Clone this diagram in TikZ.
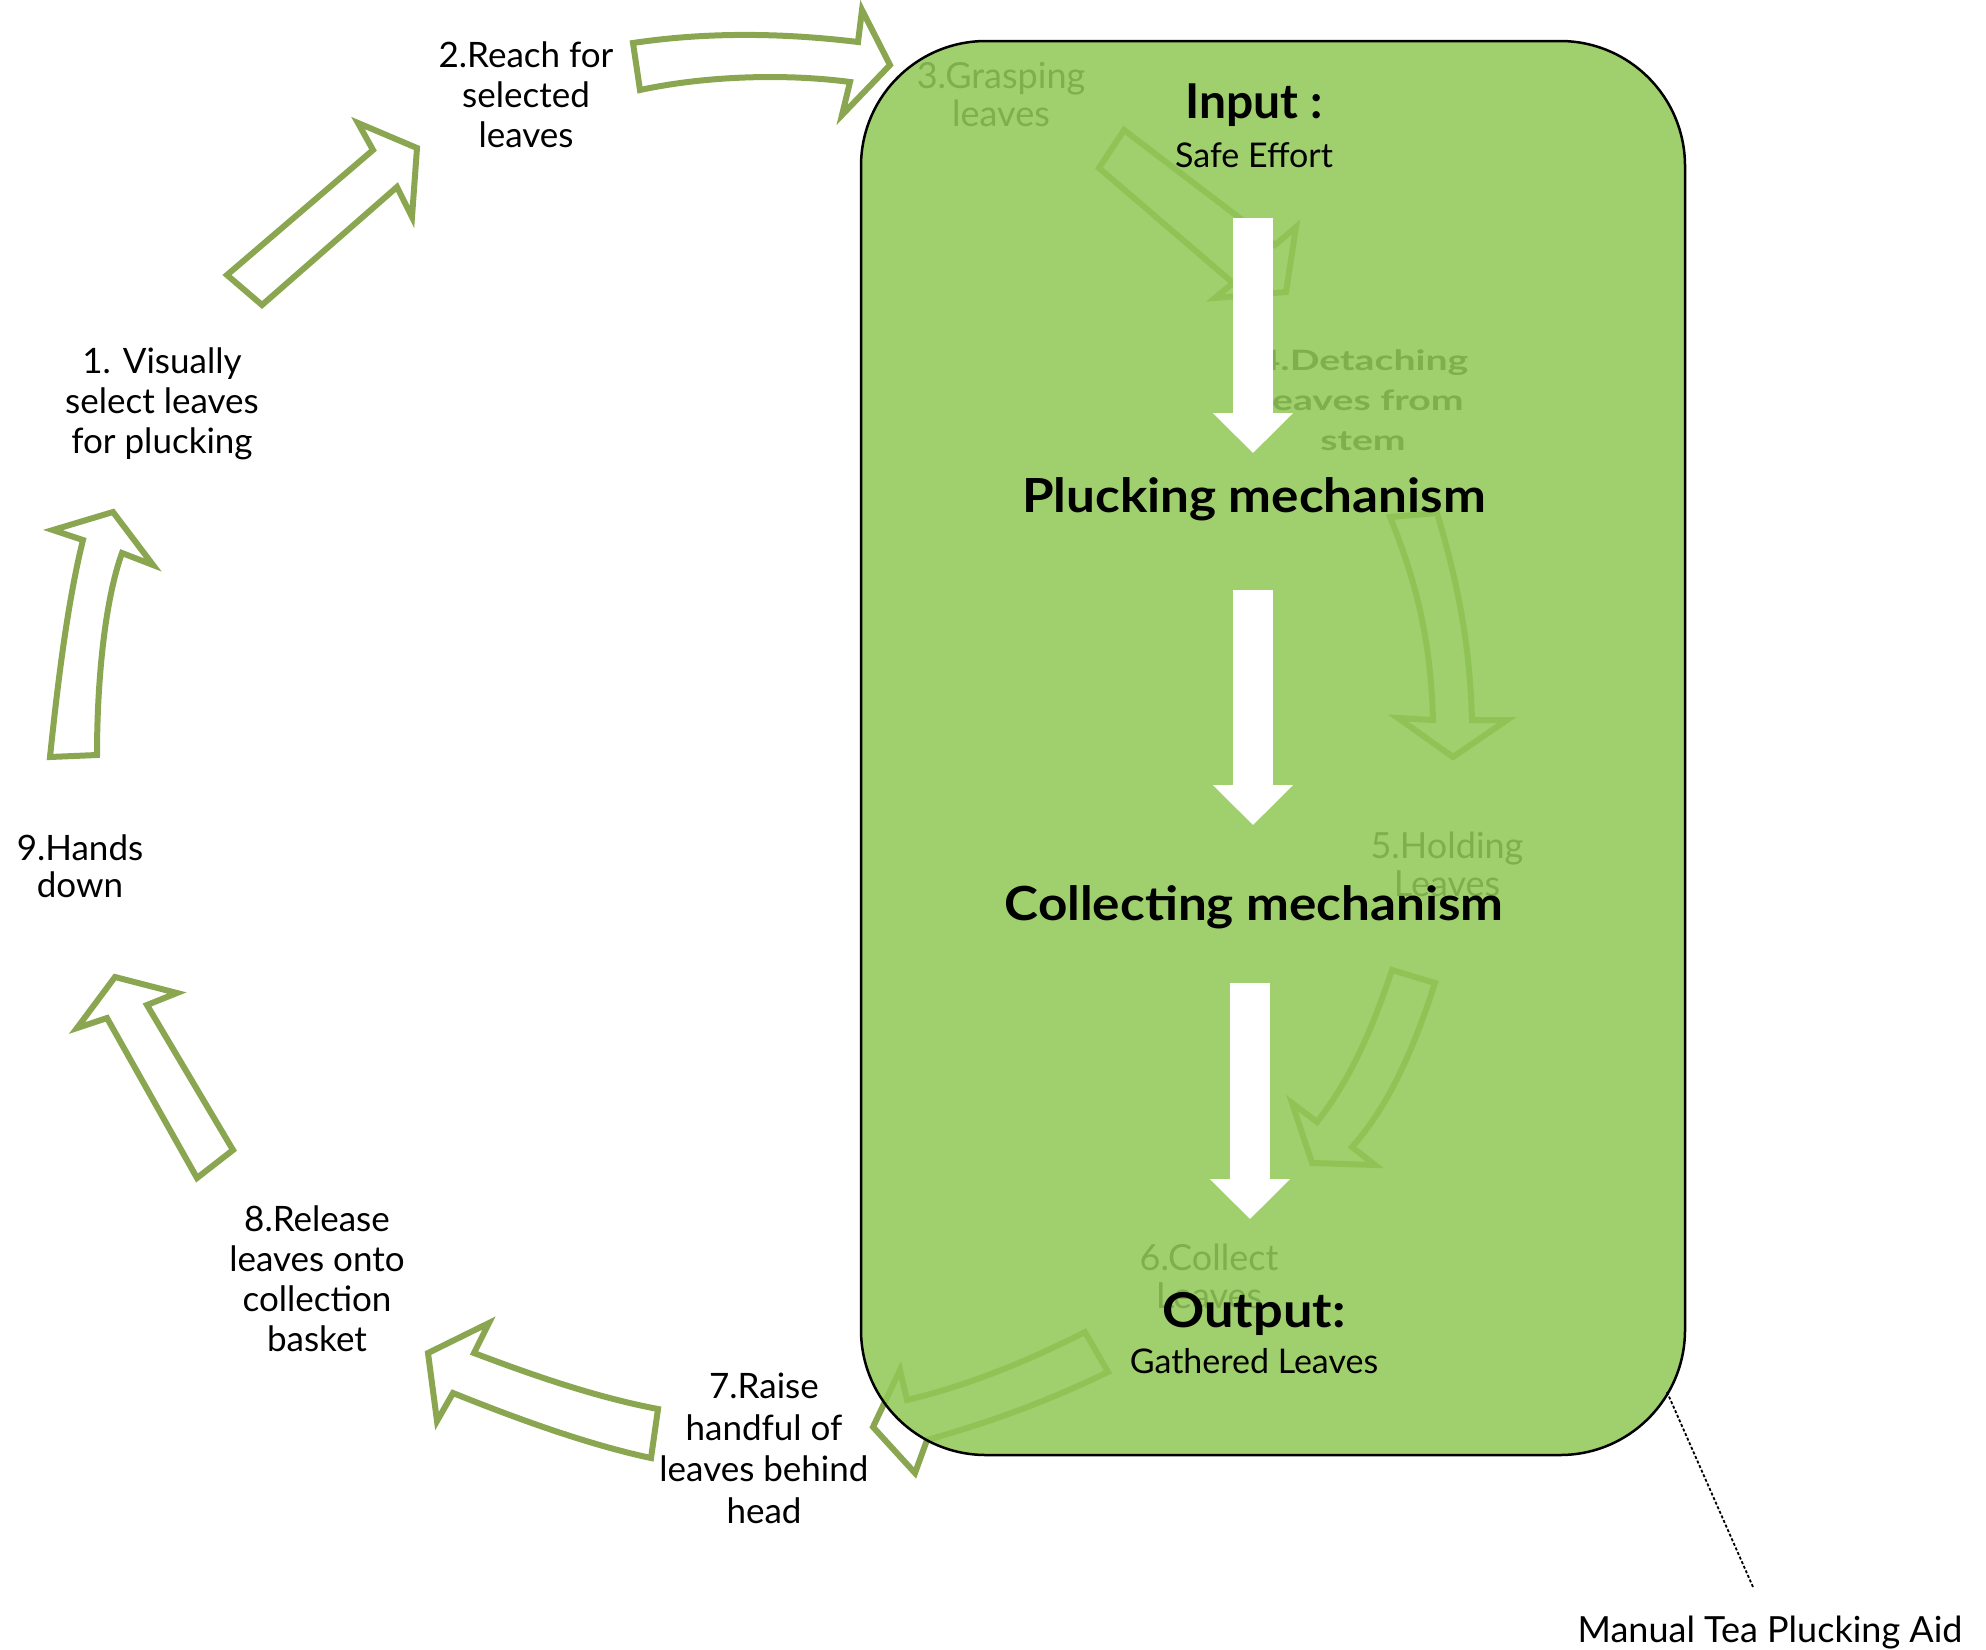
\documentclass[tikz,border=0pt]{standalone}
\usepackage{fontspec}
\setmainfont{Lato}
\newfontfamily\widefont[FakeStretch=1.4]{Lato}
\newfontfamily\titlefont[FakeStretch=1.09]{Lato}
\usetikzlibrary{arrows.meta}
\definecolor{arrowgreen}{RGB}{138,166,80}
\definecolor{boxgreen}{RGB}{146,200,88}
\tikzset{
  steparrow/.style={draw=arrowgreen, line width=6pt, fill=white, line join=miter, miter limit=4},
  whitearrow/.style={draw=white, line width=40pt, -{Triangle[width=78pt,length=40pt]}},
  outertext/.style={align=center, anchor=base, inner sep=0pt, font=\fontsize{35}{40}\selectfont},
  fadedtext/.style={align=center, anchor=base, inner sep=0pt, font=\fontsize{36}{38}\selectfont},
  boldtitle/.style={anchor=base, inner sep=0pt, font=\fontsize{47}{56}\selectfont\titlefont\bfseries},
  plaintext/.style={anchor=base, inner sep=0pt, font=\fontsize{34}{40}\selectfont},
}
\begin{document}
\begin{tikzpicture}[x=1pt,y=-1pt]
\useasboundingbox (0,0) rectangle (1986,1649);

% ---- block arrows of the cycle ----
% 1 -> 2
\draw[steparrow] (227,275) -- (262,305) -- (397,187) -- (412,217) -- (417,148) -- (358,123) -- (373,150) -- cycle;
% 2 -> 3
\draw[steparrow] (633,43) .. controls (720,30) and (800,35) .. (858,42) -- (862,10) -- (890,65) -- (842,115) -- (850,82) .. controls (790,74) and (710,75) .. (640,90) -- cycle;
% 3 -> 4
\draw[steparrow] (1124,130) -- (1275,245) -- (1296,227) -- (1286,292) -- (1215,298) -- (1233,283) -- (1099,168) -- cycle;
% 4 -> 5
\draw[steparrow] (1390,517) -- (1437,513) .. controls (1460,590) and (1470,650) .. (1472,720) -- (1507,720) -- (1453,757) -- (1398,718) -- (1433,720) .. controls (1431,650) and (1420,590) .. (1390,517) -- cycle;
% 5 -> 6
\draw[steparrow] (1392,970) -- (1435,983) .. controls (1410,1060) and (1385,1110) .. (1352,1147) -- (1375,1165) -- (1312,1163) -- (1292,1103) -- (1317,1122) .. controls (1350,1080) and (1372,1030) .. (1392,970) -- cycle;
% 6 -> 7
\draw[steparrow] (1085,1332) -- (1108,1372) .. controls (1040,1405) and (980,1425) .. (927,1440) -- (915,1473) -- (873,1427) -- (900,1370) -- (907,1400) .. controls (970,1385) and (1030,1360) .. (1085,1332) -- cycle;
% 7 -> 8
\draw[steparrow] (658,1409) -- (651,1458) .. controls (590,1445) and (520,1420) .. (453,1393) -- (437,1421) -- (428,1353) -- (489,1323) -- (474,1353) .. controls (540,1378) and (600,1398) .. (658,1409) -- cycle;
% 8 -> 9
\draw[steparrow] (197,1178) -- (233,1150) -- (147,1005) -- (177,993) -- (115,977) -- (77,1028) -- (107,1018) -- cycle;
% 9 -> 1
\draw[steparrow] (50,757) -- (97,755) .. controls (97,680) and (105,600) .. (122,553) -- (153,565) -- (113,512) -- (53,530) -- (83,540) .. controls (68,600) and (58,680) .. (50,757) -- cycle;

% ---- step labels lying under the box (anchor = baseline of last line) ----
\node[fadedtext] (s3) at (1001,126) {3.Grasping\\leaves};
\node[align=center, anchor=base, inner sep=0pt, font=\fontsize{28}{40}\selectfont\widefont\bfseries] (s4) at (1363,450) {4.Detaching\\leaves from\\stem};
\node[fadedtext] (s5) at (1447,896) {5.Holding\\Leaves};
\node[fadedtext] (s6) at (1209,1308) {6.Collect\\Leaves};

% ---- the aid (translucent box) ----
\node[draw=black, line width=2.5pt, fill=boxgreen, fill opacity=0.87, rounded corners=125pt,
      minimum width=824pt, minimum height=1414pt, inner sep=0pt] (box) at (1273,748) {};

% ---- white flow arrows ----
\coordinate (w1s) at (1253,218); \coordinate (w1e) at (1253,453);
\coordinate (w2s) at (1253,590); \coordinate (w2e) at (1253,825);
\coordinate (w3s) at (1250,983); \coordinate (w3e) at (1250,1219);
\draw[whitearrow] (w1s) -- (w1e);
\draw[whitearrow] (w2s) -- (w2e);
\draw[whitearrow] (w3s) -- (w3e);

% ---- texts inside the box ----
\node[boldtitle, font=\fontsize{48}{56}\selectfont\bfseries] (input) at (1254,118) {Input :};
\node[plaintext] (safe) at (1254,167) {Safe Effort};
\node[boldtitle] (pluck) at (1254,512) {Plucking mechanism};
\node[boldtitle] (collect) at (1254,920) {Collecting mechanism};
\node[boldtitle, font=\fontsize{48}{56}\selectfont\titlefont\bfseries] (output) at (1254,1327) {Output:};
\node[plaintext] (gathered) at (1254,1373) {Gathered Leaves};

% ---- outer step labels (anchor = baseline of last line) ----
\node[outertext] (s2) at (526,147) {2.Reach for\\selected\\leaves};
\node[outertext] (s1) at (162,453) {1. Visually\\select leaves\\for plucking};
\node[outertext, font=\fontsize{35}{37}\selectfont] (s9) at (80,897) {9.Hands\\down};
\node[outertext] (s8) at (317,1351) {8.Release\\leaves onto\\collection\\basket};
\node[outertext, font=\fontsize{35}{41.5}\selectfont] (s7) at (764,1523) {7.Raise\\handful of\\leaves behind\\head};
\node[anchor=base, inner sep=0pt, font=\fontsize{36}{40}\selectfont] (aid) at (1770,1642) {Manual Tea Plucking Aid};

% ---- leader ----
\coordinate (leadstart) at (1667,1392);
\coordinate (leadend) at (1753,1587);
\draw[black, line width=1.8pt, dash pattern=on 3pt off 2pt] (leadstart) -- (leadend);
\end{tikzpicture}
\end{document}
